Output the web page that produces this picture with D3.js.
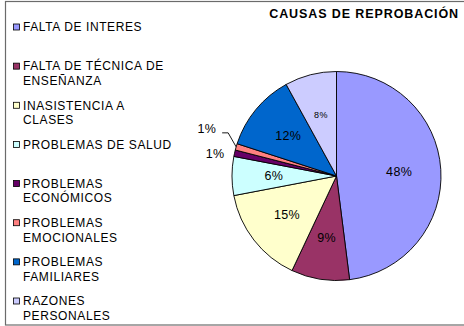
<!DOCTYPE html>
<html>
<head>
<meta charset="utf-8">
<script src="https://cdn.jsdelivr.net/npm/d3@7"></script>
<style>
  body { margin: 0; background: #fff; }
  svg { display: block; font-family: Arial, "Liberation Sans", sans-serif; }
</style>
</head>
<body>
<svg id="chart" width="464" height="326"></svg>
<script>
// Causes of failing, share of responses (%)
const categories = [
  "FALTA DE INTERES",
  "FALTA DE TÉCNICA DE\nENSEÑANZA",
  "INASISTENCIA A\nCLASES",
  "PROBLEMAS DE SALUD",
  "PROBLEMAS\nECONÓMICOS",
  "PROBLEMAS\nEMOCIONALES",
  "PROBLEMAS\nFAMILIARES",
  "RAZONES\nPERSONALES"
];
const values = [48, 9, 15, 6, 1, 1, 12, 8];
const sliceColors = ["#9999FF", "#993366", "#FFFFCC", "#CCFFFF", "#660066", "#FF8080", "#0066CC", "#CCCCFF"];
const title = "CAUSAS DE REPROBACIÓN";

const W = 464, H = 326;
const svg = d3.select("#chart");

// outer frame
svg.append("rect")
  .attr("x", 5.5).attr("y", 1.5)
  .attr("width", W + 10).attr("height", 323.5)
  .attr("fill", "#fff").attr("stroke", "#6b6b6b").attr("stroke-width", 1.2);

// title
svg.append("text")
  .attr("x", 459).attr("y", 18)
  .attr("text-anchor", "end")
  .attr("font-size", 12.5).attr("font-weight", "bold")
  .attr("letter-spacing", 0.9)
  .attr("fill", "#000")
  .text(title);

// pie
const cx = 336.5, cy = 176, r = 104.5;
const pie = d3.pie().sort(null).value(d => d).startAngle(0).endAngle(2 * Math.PI);
const arcs = pie(values);
const arc = d3.arc().innerRadius(0).outerRadius(r);
const labelArc = d3.arc().innerRadius(r * 0.6).outerRadius(r * 0.6);
const color = d3.scaleOrdinal().domain(d3.range(categories.length)).range(sliceColors);

const g = svg.append("g").attr("transform", `translate(${cx},${cy})`);
g.selectAll("path.slice")
  .data(arcs)
  .join("path")
  .attr("class", "slice")
  .attr("d", arc)
  .attr("fill", (d, i) => color(i))
  .attr("stroke", "#000")
  .attr("stroke-width", 0.9)
  .attr("stroke-linejoin", "round");

// per-label font sizes
const labelSize = { "RAZONES\nPERSONALES": 9 };
const pct = v => `${v}%`;

// labels for larger slices sit inside
const inside = arcs.map((d, i) => ({ d, i })).filter(o => o.d.data >= 2);
g.selectAll("text.in")
  .data(inside)
  .join("text")
  .attr("class", "in")
  .attr("transform", o => `translate(${labelArc.centroid(o.d)})`)
  .attr("text-anchor", "middle")
  .attr("dy", "0.35em")
  .attr("font-size", o => labelSize[categories[o.i]] || 12.5)
  .attr("letter-spacing", 0.3)
  .attr("fill", "#000")
  .text(o => pct(o.d.data));

// thin slices get their labels outside, the second one with a leader line
const outside = arcs.map((d, i) => ({ d, i })).filter(o => o.d.data < 2);
outside.forEach((o, k) => {
  const mid = (o.d.startAngle + o.d.endAngle) / 2;
  const ex = r * Math.sin(mid), ey = -r * Math.cos(mid);
  if (k === 0) {
    g.append("text")
      .attr("x", ex - 10).attr("y", ey)
      .attr("text-anchor", "end").attr("dy", "0.35em")
      .attr("font-size", 12.5).attr("letter-spacing", 0.3).attr("fill", "#000")
      .text(pct(o.d.data));
  } else {
    const bx = ex - 8, by = ey - 14;
    g.append("polyline")
      .attr("points", [[ex, ey], [bx, by], [bx - 6, by]].map(p => p.join(",")).join(" "))
      .attr("fill", "none").attr("stroke", "#000").attr("stroke-width", 0.9);
    g.append("text")
      .attr("x", bx - 12).attr("y", by - 4)
      .attr("text-anchor", "end").attr("dy", "0.35em")
      .attr("font-size", 12.5).attr("letter-spacing", 0.3).attr("fill", "#000")
      .text(pct(o.d.data));
  }
});

// legend
const legendY = d3.scalePoint().domain(d3.range(categories.length)).range([27, 301]);
const lineH = 14.6;
const legend = svg.append("g");
const items = legend.selectAll("g.item")
  .data(categories)
  .join("g")
  .attr("class", "item")
  .attr("transform", (d, i) => `translate(13,${legendY(i)})`);
items.append("rect")
  .attr("x", 0.5).attr("y", -3)
  .attr("width", 6).attr("height", 6)
  .attr("fill", (d, i) => color(i))
  .attr("stroke", "#000").attr("stroke-width", 0.8);
items.append("text")
  .attr("x", 10)
  .attr("font-size", 12)
  .attr("letter-spacing", 0.6)
  .attr("fill", "#000")
  .selectAll("tspan")
  .data(d => d.split("\n"))
  .join("tspan")
  .attr("x", 10)
  .attr("y", (d, j) => j * lineH)
  .attr("dy", "0.36em")
  .text(d => d);
</script>
</body>
</html>
